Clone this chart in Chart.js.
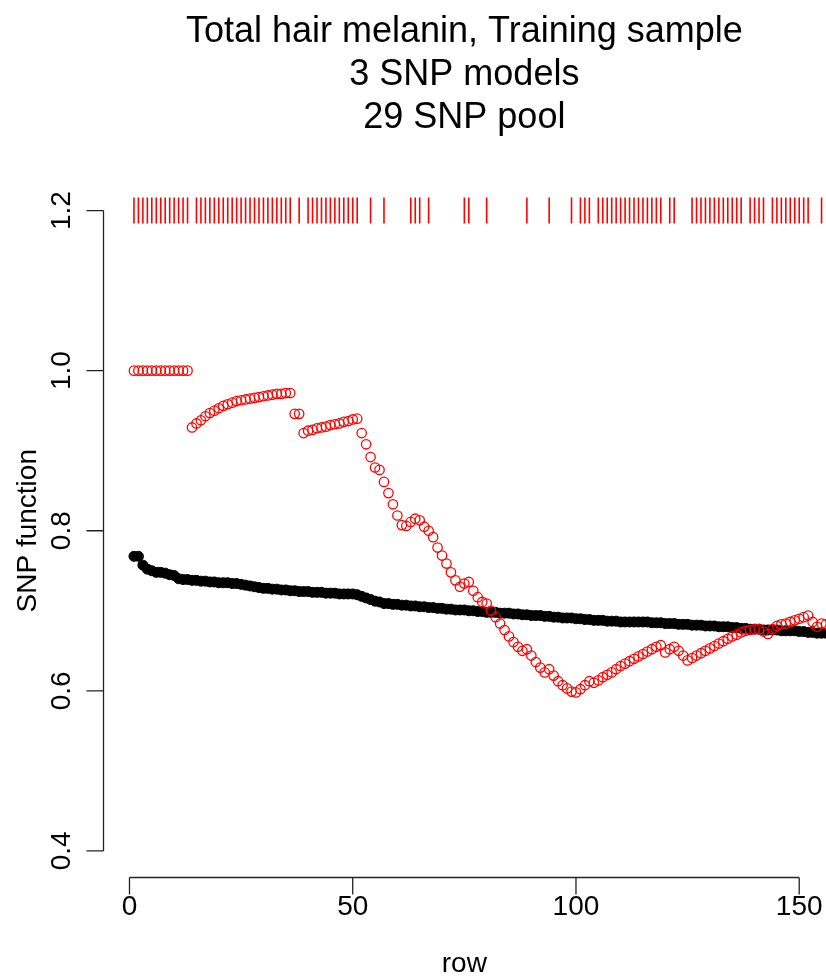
<!DOCTYPE html>
<html>
<head>
<meta charset="utf-8">
<title>Total hair melanin, Training sample</title>
<script src="https://cdn.jsdelivr.net/npm/chart.js@4.4.0/dist/chart.umd.min.js"></script>
<style>
    html, body { margin: 0; padding: 0; background: #fff; overflow: hidden; }
    #snpChart { display: block; }
</style>
</head>
<body>
<canvas id="snpChart" width="826" height="977"></canvas>
<script>
// Titles and axis text
const titleLines = ['Total hair melanin, Training sample', '3 SNP models', '29 SNP pool'];
const xLabel = 'row';
const yLabel = 'SNP function';
const xTicks = [0, 50, 100, 150];
const yTicks = [0.4, 0.6, 0.8, 1.0, 1.2];
const yTickLabels = ['0.4', '0.6', '0.8', '1.0', '1.2'];

// Best value per row (black) and value of the 3 SNP model per row (red), rows 1..157
const bestValues = [
    0.768, 0.768, 0.757, 0.752, 0.750, 0.748, 0.748, 0.747, 0.745, 0.744,
    0.740, 0.739, 0.739, 0.738, 0.738, 0.737, 0.737, 0.736, 0.736, 0.735,
    0.735, 0.735, 0.734, 0.734, 0.733, 0.732, 0.731, 0.730, 0.729, 0.728,
    0.728, 0.727, 0.727, 0.726, 0.726, 0.725, 0.725, 0.724, 0.724, 0.724,
    0.723, 0.723, 0.723, 0.722, 0.722, 0.722, 0.721, 0.721, 0.721, 0.721,
    0.720, 0.718, 0.716, 0.714, 0.712, 0.711, 0.709, 0.709, 0.708, 0.708,
    0.707, 0.707, 0.706, 0.706, 0.705, 0.705, 0.704, 0.704, 0.703, 0.703,
    0.702, 0.702, 0.701, 0.701, 0.701, 0.700, 0.700, 0.699, 0.699, 0.698,
    0.698, 0.698, 0.697, 0.697, 0.697, 0.696, 0.696, 0.695, 0.695, 0.694,
    0.694, 0.694, 0.693, 0.693, 0.692, 0.692, 0.691, 0.691, 0.691, 0.690,
    0.690, 0.689, 0.689, 0.688, 0.688, 0.688, 0.687, 0.687, 0.687, 0.686,
    0.686, 0.686, 0.686, 0.686, 0.686, 0.686, 0.685, 0.685, 0.685, 0.684,
    0.684, 0.684, 0.683, 0.683, 0.683, 0.682, 0.682, 0.682, 0.681, 0.681,
    0.681, 0.680, 0.680, 0.680, 0.679, 0.679, 0.678, 0.678, 0.677, 0.677,
    0.677, 0.676, 0.676, 0.676, 0.676, 0.675, 0.675, 0.675, 0.675, 0.674,
    0.674, 0.673, 0.673, 0.672, 0.672, 0.672, 0.671
];

const modelValues = [
    1.000, 1.000, 1.000, 1.000, 1.000, 1.000, 1.000, 1.000, 1.000, 1.000,
    1.000, 1.000, 1.000, 0.929, 0.934, 0.938, 0.943, 0.947, 0.950, 0.953,
    0.956, 0.958, 0.960, 0.962, 0.963, 0.964, 0.965, 0.966, 0.967, 0.968,
    0.969, 0.970, 0.971, 0.971, 0.972, 0.972, 0.946, 0.946, 0.922, 0.925,
    0.926, 0.928, 0.929, 0.930, 0.932, 0.933, 0.934, 0.936, 0.937, 0.939,
    0.940, 0.922, 0.908, 0.892, 0.879, 0.876, 0.861, 0.847, 0.833, 0.819,
    0.807, 0.806, 0.811, 0.815, 0.813, 0.805, 0.800, 0.792, 0.779, 0.769,
    0.759, 0.748, 0.738, 0.730, 0.734, 0.736, 0.725, 0.717, 0.711, 0.709,
    0.700, 0.692, 0.684, 0.676, 0.668, 0.661, 0.655, 0.650, 0.652, 0.644,
    0.636, 0.629, 0.623, 0.627, 0.619, 0.612, 0.607, 0.603, 0.599, 0.598,
    0.602, 0.607, 0.612, 0.610, 0.613, 0.617, 0.620, 0.623, 0.627, 0.631,
    0.634, 0.637, 0.640, 0.643, 0.646, 0.649, 0.652, 0.655, 0.657, 0.648,
    0.652, 0.655, 0.650, 0.644, 0.638, 0.641, 0.644, 0.647, 0.650, 0.653,
    0.656, 0.659, 0.662, 0.665, 0.668, 0.670, 0.673, 0.675, 0.676, 0.677,
    0.677, 0.674, 0.671, 0.677, 0.681, 0.683, 0.684, 0.686, 0.688, 0.690,
    0.692, 0.694, 0.686, 0.680, 0.684, 0.683, 0.682
];

// Rows marked along the top with a red bar
const rugRows = [
    1, 2, 3, 4, 5, 6, 7, 8, 9, 10, 11, 12, 13,
    15, 16, 17, 18, 19, 20, 21, 22, 23, 24, 25, 26, 27, 28, 29, 30, 31, 32, 33, 34, 35, 36,
    38, 40, 41, 42, 43, 44, 45, 46, 47, 48, 49, 50, 51,
    54, 57, 63, 64, 65, 67, 75, 76, 80, 89, 94, 99,
    101, 102, 103, 105, 106, 107, 108, 109, 110, 111, 112, 113, 114, 115, 116, 117, 118, 119,
    121, 122, 126, 127, 128, 129, 130, 131, 132, 133, 134, 135, 136, 137,
    139, 140, 141, 142, 144, 145, 146, 147, 148, 149, 150, 151, 152, 155
];
const rugLevel = 1.2;

const FONT = '"Liberation Sans", Arial, sans-serif';
Chart.defaults.font.family = FONT;

// R style axes: line only between first and last tick, ticks pointing out, rotated y labels
const baseAxes = {
    id: 'baseAxes',
    afterDraw(chart) {
        const { ctx, chartArea } = chart;
        const xs = chart.scales.x;
        const ys = chart.scales.y;
        const tickLen = 17;
        ctx.save();
        ctx.strokeStyle = '#222';
        ctx.lineWidth = 1.3;
        ctx.fillStyle = '#000';
        ctx.font = '28px ' + FONT;

        // bottom axis
        const yb = Math.round(chartArea.bottom) + 0.5;
        ctx.beginPath();
        ctx.moveTo(xs.getPixelForValue(xTicks[0]), yb);
        ctx.lineTo(xs.getPixelForValue(xTicks[xTicks.length - 1]), yb);
        xTicks.forEach(t => {
            const px = xs.getPixelForValue(t);
            ctx.moveTo(px, yb);
            ctx.lineTo(px, yb + tickLen);
        });
        ctx.stroke();
        ctx.textAlign = 'center';
        ctx.textBaseline = 'alphabetic';
        xTicks.forEach(t => {
            ctx.fillText(String(t), xs.getPixelForValue(t), yb + 37);
        });
        ctx.fillText(xLabel, (chartArea.left + chartArea.right) / 2, yb + 94);

        // left axis
        const xl = Math.round(chartArea.left) + 0.5;
        ctx.beginPath();
        ctx.moveTo(xl, ys.getPixelForValue(yTicks[0]));
        ctx.lineTo(xl, ys.getPixelForValue(yTicks[yTicks.length - 1]));
        yTicks.forEach(t => {
            const py = ys.getPixelForValue(t);
            ctx.moveTo(xl, py);
            ctx.lineTo(xl - tickLen, py);
        });
        ctx.stroke();
        yTicks.forEach((t, i) => {
            ctx.save();
            ctx.translate(xl - 34, ys.getPixelForValue(t));
            ctx.rotate(-Math.PI / 2);
            ctx.fillText(yTickLabels[i], 0, 0);
            ctx.restore();
        });
        ctx.save();
        ctx.translate(36, (chartArea.top + chartArea.bottom) / 2);
        ctx.rotate(-Math.PI / 2);
        ctx.fillText(yLabel, 0, 0);
        ctx.restore();

        ctx.restore();
    }
};

const rows = bestValues.map((_, i) => i + 1);

new Chart(document.getElementById('snpChart'), {
    type: 'scatter',
    data: {
        datasets: [
            {
                label: 'marked rows',
                data: rugRows.map(r => ({ x: r, y: rugLevel })),
                pointStyle: 'line',
                rotation: 90,
                pointRadius: 13,
                borderColor: '#ff0000',
                pointBorderWidth: 1.6,
                order: 0
            },
            {
                label: '3 SNP model',
                data: rows.map((r, i) => ({ x: r, y: modelValues[i] })),
                pointStyle: 'circle',
                pointRadius: 4.7,
                pointBorderWidth: 1.3,
                borderColor: '#ff0000',
                backgroundColor: 'rgba(0,0,0,0)',
                order: 1
            },
            {
                label: 'best',
                data: rows.map((r, i) => ({ x: r, y: bestValues[i] })),
                pointStyle: 'circle',
                pointRadius: 5,
                pointBorderWidth: 1,
                borderColor: '#000',
                backgroundColor: '#000',
                order: 2
            }
        ]
    },
    options: {
        responsive: false,
        animation: false,
        events: [],
        devicePixelRatio: 1,
        layout: {
            autoPadding: false,
            padding: { left: 102.7, right: 0, top: 0, bottom: 100.5 }
        },
        scales: {
            x: { type: 'linear', min: -6, max: 156, display: false },
            y: { type: 'linear', min: 0.368, max: 1.232, display: false }
        },
        plugins: {
            legend: { display: false },
            tooltip: { enabled: false },
            title: {
                display: true,
                text: titleLines,
                color: '#000',
                font: { size: 36, weight: 'normal', lineHeight: 1.194 },
                padding: { top: 10.5, bottom: 45.5 }
            }
        }
    },
    plugins: [baseAxes]
});
</script>
</body>
</html>
